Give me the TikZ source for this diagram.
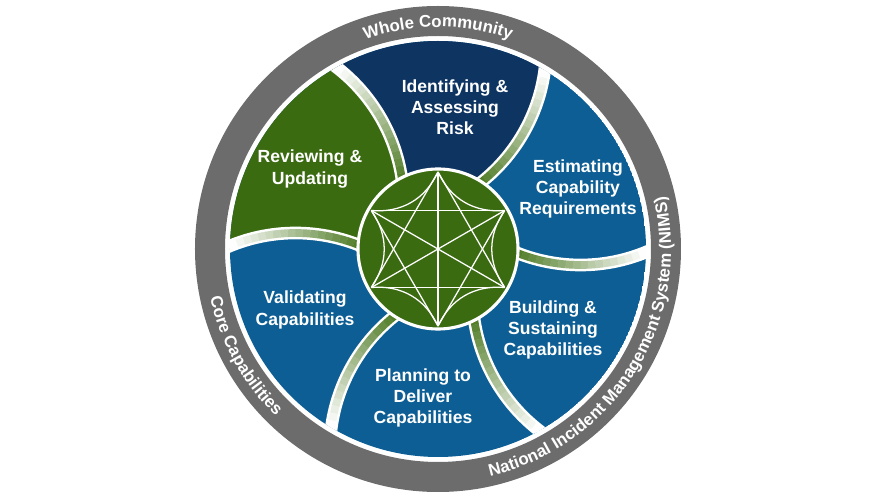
\documentclass[tikz,border=0pt]{standalone}
\usepackage{fontspec}
\setmainfont{Liberation Sans}
\usepackage{tikz}
\usetikzlibrary{decorations.text}
\definecolor{cnavy} {RGB}{14, 52, 97}
\definecolor{cblue} {RGB}{12, 94,148}
\definecolor{cgreen}{RGB}{59,107, 17}
\definecolor{cband} {RGB}{72,118, 28}
\definecolor{cring} {RGB}{108,108,108}
\newcommand{\ringfont}{\fontsize{12}{14}\selectfont\bfseries}
\tikzset{
  seglbl/.style={text=white, font=\fontsize{12.5}{15}\selectfont\bfseries,
                 align=center, inner sep=0pt},
  ringtxt/.style={decorate, decoration={text along path, text align=center,
                  text color=white}},
  divband/.style={draw=white, line width=9pt},
  hub/.style={circle, fill=cgreen, draw=white, line width=2.2pt,
              minimum size=4cm, inner sep=0pt},
  hubline/.style={draw=white, line width=0.9pt},
}

\begin{document}
\begin{tikzpicture}[x=0.025cm, y=0.025cm]
  \useasboundingbox (-438,-251) rectangle (432,249);

  % ── Outer ring ─────────────────────────────────────────────────────────────
  \fill[cring, even odd rule] (0,0) circle[radius=243] circle[radius=213];
  \path[ringtxt, decoration={text={|\ringfont|Whole Community}}]
      (150:222) arc[start angle=150, end angle=30, radius=222];
  \path[ringtxt, decoration={text={|\ringfont|National Incident Management System (NIMS)}}]
      (-82:233) arc[start angle=-82, end angle=18, radius=233];
  \path[ringtxt, decoration={text={|\ringfont|Core Capabilities}}]
      (180:233) arc[start angle=180, end angle=238, radius=233];

  % ── Segments ───────────────────────────────────────────────────────────────
  \begin{scope}
    \clip (0,0) circle[radius=208];
    \fill[cblue] (0,0) circle[radius=208];
    \fill[cnavy] (60:215) arc[start angle=60, end angle=120, radius=215]
        arc[start angle=414.9, end angle=365.1, radius=172.25]
        -- (60:70) arc[start angle=305.1, end angle=354.9, radius=172.25] -- cycle;
    \fill[cgreen] (120:215) arc[start angle=120, end angle=180, radius=215]
        arc[start angle=474.9, end angle=425.1, radius=172.25]
        -- (120:70) arc[start angle=365.1, end angle=414.9, radius=172.25] -- cycle;
    % dividers
    \foreach \t in {0,60,...,300} {
      \draw[divband] (\t:70) arc[start angle=\t+245.1, end angle=\t+294.9, radius=172.25];
      \foreach \k in {0,...,19} {
        \pgfmathtruncatemacro\f{max(0,100-5.5*\k)}
        \draw[draw=cband!\f!white, line width=5.5pt]
          ([shift={({\t+47.63}:211.5)}] {\t+245.1+2.49*\k}:172.25)
          arc[start angle=\t+245.1+2.49*\k, delta angle=2.6, radius=172.25];
      }
    }
  \end{scope}

  % ── Hub ────────────────────────────────────────────────────────────────────
  \node[hub] (hubc) at (0,0) {};
  \foreach \a in {30,90,150}
    \draw[hubline] (\a:77) -- ({\a+180}:77);
  \foreach \a in {30,90,...,330} {
    \draw[hubline] (\a:77) -- ({\a+120}:77);
    \draw[hubline] (\a:77) to[bend left=35] ({\a+60}:77);
  }

  % ── Labels ─────────────────────────────────────────────────────────────────
  \node[seglbl] (ident)  at (17,142)   {Identifying \&\\Assessing\\Risk};
  \node[seglbl] (estim)  at (140,60)   {Estimating\\Capability\\Requirements};
  \node[seglbl] (build)  at (115,-81)  {Building \&\\Sustaining\\Capabilities};
  \node[seglbl] (plan)   at (-15,-149) {Planning to\\Deliver\\Capabilities};
  \node[seglbl] (valid)  at (-133,-61) {Validating\\Capabilities};
  \node[seglbl] (review) at (-128,80)  {Reviewing \&\\Updating};
\end{tikzpicture}
\end{document}
